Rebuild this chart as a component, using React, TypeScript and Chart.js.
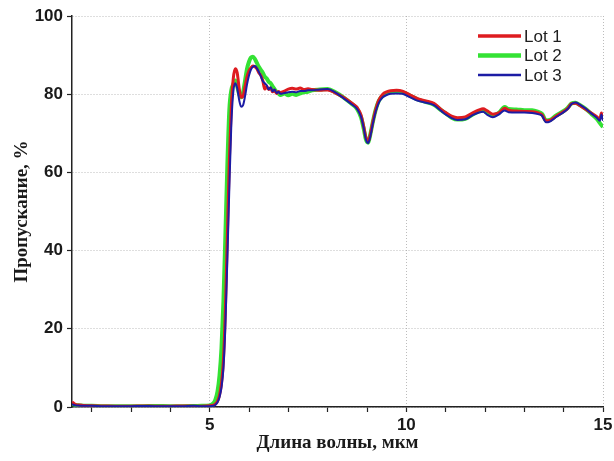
import React, { useEffect, useRef } from "react";
import { Chart, registerables } from "chart.js";

Chart.register(...registerables);

// Wavelength grid (µm), shared by the three lots
const WAVELENGTH = [
  1.5, 1.55, 1.6, 1.7, 1.8, 2.0, 2.3, 2.6, 3.0, 3.3, 3.6, 4.0, 4.3, 4.6, 4.8, 5.0,
  5.1, 5.15, 5.2, 5.25, 5.3, 5.35, 5.4, 5.45, 5.5, 5.55,
  5.6, 5.65, 5.7, 5.75, 5.8, 5.85, 5.9, 5.95, 6.0, 6.05, 6.1, 6.15, 6.2, 6.25, 6.3,
  6.35, 6.4, 6.45, 6.5, 6.55, 6.6, 6.65, 6.7, 6.75, 6.8, 6.9, 7.0, 7.1, 7.2, 7.3, 7.4, 7.5, 7.6,
  7.8, 8.0, 8.2, 8.4, 8.6, 8.75, 8.85, 8.92, 8.97, 9.03, 9.08, 9.15, 9.22, 9.3, 9.4, 9.5, 9.6, 9.75, 9.9,
  10.1, 10.3, 10.5, 10.7, 10.9, 11.0, 11.15, 11.3, 11.5, 11.7, 11.85, 11.95, 12.05, 12.2, 12.35, 12.5, 12.6, 12.8,
  13.0, 13.2, 13.35, 13.45, 13.55, 13.65, 13.8, 14.0, 14.1, 14.2, 14.3, 14.4, 14.55, 14.7, 14.85, 14.92, 14.96, 15.0,
];

// Transmission, %
const LOT1 = [
  1.3, 0.9, 0.6, 0.5, 0.4, 0.3, 0.25, 0.2, 0.2, 0.25, 0.2, 0.2, 0.25, 0.2, 0.2, 0.3,
  0.5, 0.8, 1.5, 3, 6, 12, 25, 44, 63, 77,
  84, 86.5, 85.5, 81.5, 79.2, 79.5, 82, 84.5, 86, 86.8, 87.2, 87, 86.5, 85.5, 84.8,
  83.5, 81.3, 82, 81.2, 81.6, 80.6, 81, 80.2, 80.7, 80.4, 80.8, 81.3, 81.5, 81.3, 81.6, 81.2, 81.4, 81.2,
  81, 81.1, 80.3, 79.2, 77.8, 76.6, 74.6, 71.5, 69.0, 67.8, 69.5, 73, 76, 78.5, 80, 80.6, 80.9, 81, 80.8,
  79.8, 78.8, 78.3, 77.7, 76, 75.3, 74.4, 74.0, 74.2, 75.3, 76.0, 76.3, 75.8, 74.9, 75.2, 76.4, 75.9, 75.7,
  75.6, 75.5, 75.2, 74.7, 73.2, 73.3, 74.3, 75.6, 76.3, 77.6, 77.7, 77.2, 76.2, 75.2, 74.2, 73.6, 75.2, 73.8,
];

const LOT2 = [
  0.8, 0.6, 0.5, 0.4, 0.3, 0.3, 0.2, 0.2, 0.2, 0.2, 0.25, 0.2, 0.2, 0.25, 0.3, 0.4,
  1.0, 2.0, 4, 8, 15, 27, 44, 62, 76, 81,
  82.5, 83.5, 82, 80, 79.2, 80.5, 83.5, 86.5, 88.3, 89.4, 89.6, 89, 88, 87, 86.2,
  85.5, 84.5, 84, 83.2, 82.8, 82, 81.3, 80.6, 80.2, 79.8, 80.2, 79.7, 80.1, 79.8, 80.2, 80.5, 80.6, 81,
  81.2, 81.3, 80.5, 79.2, 77.6, 76.2, 74, 71, 68.5, 67.6, 69.5, 73, 76, 78.3, 79.6, 80.3, 80.6, 80.7, 80.5,
  79.6, 78.6, 78.0, 77.3, 75.8, 75.1, 74, 73.5, 73.7, 74.9, 75.6, 75.8, 75.3, 74.6, 75.2, 76.7, 76.2, 76.1,
  75.9, 75.9, 75.5, 75, 73.3, 73.4, 74.5, 75.7, 76.5, 77.6, 77.8, 77.3, 76.3, 75, 73.6, 72.6, 72.1, 71.6,
];

const LOT3 = [
  0.7, 0.5, 0.4, 0.35, 0.3, 0.3, 0.2, 0.2, 0.2, 0.25, 0.2, 0.2, 0.2, 0.3, 0.2, 0.2,
  0.3, 0.6, 1.2, 2.5, 5, 10, 21, 38, 56, 72,
  80.5, 82.8, 81.5, 78.5, 76.8, 77.2, 79.5, 82.5, 84.8, 86.3, 87, 87.2, 86.6, 85.7, 84.6,
  83.4, 82.8, 82.3, 81.2, 81.8, 80.7, 81.2, 80.3, 80.6, 80.1, 80.3, 80.5, 80.6, 80.5, 80.8, 80.8, 81, 81,
  81.2, 81.3, 80.4, 79, 77.5, 76.2, 74.2, 71.2, 68.5, 67.5, 69, 72.5, 75.5, 77.8, 79.2, 79.8, 80.1, 80.2, 80.1,
  79.2, 78.3, 77.8, 77.2, 75.6, 74.8, 73.9, 73.4, 73.6, 74.7, 75.3, 75.5, 74.8, 74.1, 74.8, 75.8, 75.4, 75.3,
  75.3, 75.2, 74.9, 74.5, 72.8, 73, 74.1, 75.4, 76.2, 77.5, 77.9, 77.4, 76.4, 75.1, 73.9, 73.2, 74.8, 73.2,
];

const SERIES_LABELS = ["Lot 1", "Lot 2", "Lot 3"];
const SERIES_COLORS = ["rgb(222,28,32)", "rgb(52,226,52)", "rgb(28,28,165)"];
const X_TICKS = [2, 3, 4, 5, 6, 7, 8, 9, 10, 11, 12, 13, 14, 15];
const X_LABELED = [5, 10, 15];
const Y_TICKS = [0, 20, 40, 60, 80, 100];
const X_TITLE = "Длина волны, мкм";
const Y_TITLE = "Пропускание, %";

const SANS = '"Liberation Sans", Arial, sans-serif';
const SERIF = '"Liberation Serif", "Times New Roman", serif';
const GRID = "rgba(165,165,165,0.75)";

export default function App() {
  const ref = useRef<HTMLCanvasElement | null>(null);

  useEffect(() => {
    const canvas = ref.current;
    if (!canvas) return;
    const toPts = (vals: number[]) => WAVELENGTH.map((x, i) => ({ x, y: vals[i] }));
    const widths = [3, 4, 2];
    const orders = [2, 3, 1];
    const allSeries = [LOT1, LOT2, LOT3];

    const legendPlugin = {
      id: "insideLegend",
      afterDraw(chart: any) {
        const { ctx, chartArea } = chart;
        ctx.save();
        SERIES_LABELS.forEach((label, i) => {
          const y = chartArea.top + 20 + i * 19.5;
          const x0 = chartArea.right - 125;
          ctx.strokeStyle = SERIES_COLORS[i];
          ctx.lineWidth = widths[i] + 0.5;
          ctx.beginPath();
          ctx.moveTo(x0, y);
          ctx.lineTo(x0 + 43, y);
          ctx.stroke();
          ctx.fillStyle = "#1e1e1e";
          ctx.font = `17px ${SANS}`;
          ctx.textBaseline = "middle";
          ctx.textAlign = "left";
          ctx.fillText(label, x0 + 46, y + 1);
        });
        ctx.restore();
      },
    };

    const chart = new Chart(canvas, {
      type: "line",
      data: {
        datasets: allSeries.map((vals, i) => ({
          label: SERIES_LABELS[i],
          data: toPts(vals),
          borderColor: SERIES_COLORS[i],
          backgroundColor: SERIES_COLORS[i],
          borderWidth: widths[i],
          pointRadius: 0,
          cubicInterpolationMode: "monotone" as const,
          order: orders[i],
        })),
      },
      options: {
        animation: false,
        responsive: false,
        devicePixelRatio: 1,
        layout: { padding: { left: 0, right: 11, top: 16, bottom: 7 } },
        plugins: { legend: { display: false }, tooltip: { enabled: false } },
        scales: {
          x: {
            type: "linear",
            min: 1.5,
            max: 15,
            afterBuildTicks: (s: any) => {
              s.ticks = X_TICKS.map((v) => ({ value: v }));
            },
            afterFit: (s: any) => {
              s.height = 47;
              s.paddingRight = 0;
              s.paddingLeft = 0;
            },
            ticks: {
              autoSkip: false,
              maxRotation: 0,
              padding: 3,
              color: "#1a1a1a",
              font: { family: SANS, size: 17, weight: "bold" },
              callback: (v: any) => (X_LABELED.includes(Number(v)) ? String(v) : ""),
            },
            grid: {
              color: (c: any) =>
                c.tick && X_LABELED.includes(c.tick.value) ? GRID : "rgba(0,0,0,0)",
              lineWidth: 1,
              tickColor: "#222",
              tickLength: 5,
              tickWidth: 1.2,
            },
            border: { display: true, color: "#222", width: 1.5, dash: [1, 2] },
            title: {
              display: true,
              text: X_TITLE,
              color: "#1a1a1a",
              font: { family: SERIF, size: 19, weight: "bold" },
              padding: { top: 0, bottom: 0 },
            },
          },
          y: {
            type: "linear",
            min: 0,
            max: 100,
            afterBuildTicks: (s: any) => {
              s.ticks = Y_TICKS.map((v) => ({ value: v }));
            },
            afterFit: (s: any) => {
              s.width = 72;
              s.paddingTop = 0;
              s.paddingBottom = 0;
            },
            ticks: {
              padding: 4,
              color: "#1a1a1a",
              font: { family: SANS, size: 17, weight: "bold" },
            },
            grid: {
              color: GRID,
              lineWidth: 1,
              tickColor: "#222",
              tickLength: 5,
              tickWidth: 1.2,
            },
            border: { display: true, color: "#222", width: 1.5, dash: [1, 2] },
            title: {
              display: true,
              text: Y_TITLE,
              color: "#1a1a1a",
              font: { family: SERIF, size: 19, weight: "bold" },
              padding: { top: 11, bottom: 0 },
            },
          },
        },
      },
      plugins: [legendPlugin],
    } as any);

    return () => chart.destroy();
  }, []);

  return (
    <div style={{ position: "absolute", left: 0, top: 0, width: 614, height: 461, background: "#fff" }}>
      <canvas ref={ref} width={614} height={461} style={{ display: "block" }} />
    </div>
  );
}
